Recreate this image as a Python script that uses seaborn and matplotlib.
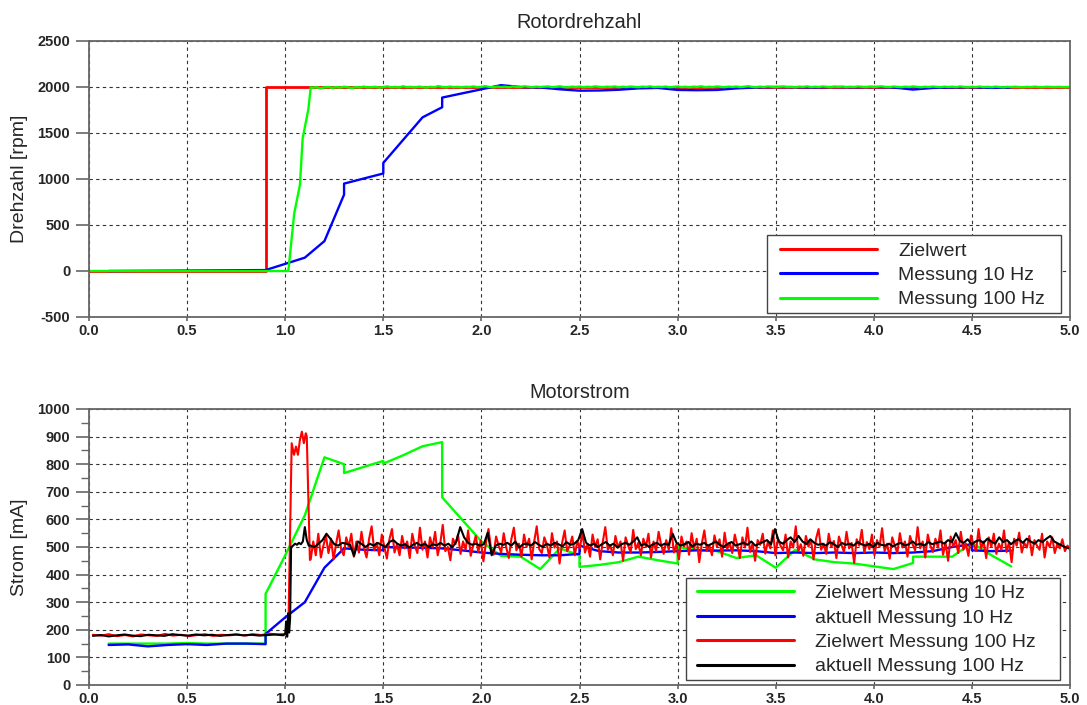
import numpy as np
import pandas as pd
import seaborn as sns
import matplotlib
matplotlib.use("Agg")
import matplotlib.pyplot as plt
from matplotlib.patches import Rectangle
from matplotlib.ticker import MultipleLocator, FormatStrFormatter

# ---------------- data: Rotordrehzahl ----------------
ziel_t = [0.0, 0.9, 0.9, 5.0]
ziel_v = [0, 0, 2000, 2000]

rpm10_t = [0.1, 0.9, 1.1, 1.2, 1.3, 1.3, 1.5, 1.5, 1.7, 1.8, 1.8, 2.0, 2.1, 2.2, 2.3, 2.4,
           2.5, 2.6, 2.7, 2.8, 2.9, 3.0, 3.1, 3.2, 3.3, 3.4, 3.5, 3.6, 3.7, 3.8, 3.9, 4.0,
           4.1, 4.2, 4.3, 4.4, 4.5, 4.6, 4.7]
rpm10_v = [0, 10, 145, 325, 830, 950, 1060, 1175, 1670, 1780, 1885, 1975, 2020, 2000, 1995, 1975,
           1960, 1962, 1970, 1985, 1990, 1968, 1965, 1968, 1985, 1995, 2000, 1998, 1995, 2000, 1997, 2000,
           1995, 1972, 1990, 1995, 1998, 1990, 1995]

rpm100_rise_t = [0.01, 1.016, 1.046, 1.075, 1.089, 1.118, 1.13]
rpm100_rise_v = [0, 0, 627, 935, 1442, 1757, 1996]
rpm100_steady_start = 1.14
rpm100_steady_v = [
    1992, 1998, 1985, 1996, 2001, 1990, 1999, 1994, 2003, 1997, 1988, 2000, 1995, 2004, 1996, 1999, 2002, 1993, 2000, 2006,
    1997, 2001, 1995, 2008, 1999, 2002, 1996, 2004, 2000, 1994, 2003, 1998, 2010, 2001, 1997, 2005, 1999, 2002, 1996, 2003,
    2000, 2006, 1998, 2002, 2009, 2001, 1997, 2004, 2000, 2003, 1998, 2005, 2001, 1999, 2007, 2002, 1998, 2004, 2000, 2003,
    2006, 1999, 2002, 2008, 2000, 1997, 2004, 2001, 2005, 1998, 2003, 2000, 2007, 2002, 1999, 2004, 2001, 2006, 1998, 2003,
    2000, 2005, 2002, 1998, 2004, 2001, 2007, 1999, 2003, 2000, 2005, 1997, 2002, 2006, 2000, 2003, 1998, 2004, 2001, 2008,
    1999, 2003, 2000, 2006, 2002, 1998, 2004, 2001, 2005, 1999, 2003, 2009, 2001, 1998, 2004, 2000, 2006, 2002, 1999, 2003,
    2005, 2000, 2002, 1997, 2004, 2001, 2007, 1999, 2003, 2000, 2006, 2002, 1998, 2004, 2001, 2005, 1999, 2003, 2000, 2006,
    2002, 1998, 2004, 2000, 2003, 2007, 2001, 1999, 2005, 2002, 1998, 2004, 2000, 2006, 2001, 1997, 2003, 2000, 2005, 2001,
    1998, 2004, 2000, 2003, 1999, 2006, 2001, 1997, 2003, 2000, 2005, 1999, 2002, 1998, 2004, 2000, 1996, 2002, 1999, 2003,
    2000, 1997, 2002, 1999, 2004, 2000, 1998, 2003, 2001, 1999, 2002, 2000, 1998, 2001]

# ---------------- data: Motorstrom ----------------
ziel10_t = [0.1, 0.2, 0.3, 0.4, 0.5, 0.6, 0.7, 0.8, 0.9, 0.9, 1.0, 1.1, 1.2, 1.3, 1.3, 1.4, 1.5, 1.5,
            1.6, 1.7, 1.8, 1.8, 1.9, 2.0, 2.1, 2.2, 2.3, 2.4, 2.5, 2.5, 2.6, 2.7, 2.8, 2.9, 3.0, 3.0,
            3.1, 3.2, 3.3, 3.4, 3.5, 3.6, 3.7, 3.8, 3.9, 4.0, 4.1, 4.2, 4.2, 4.3, 4.4, 4.5, 4.6, 4.7]
ziel10_v = [150, 150, 150, 150, 152, 150, 150, 150, 150, 330, 470, 615, 825, 800, 768, 790, 812, 802,
            832, 865, 880, 680, 600, 520, 468, 465, 420, 495, 470, 428, 435, 445, 465, 452, 440, 500,
            490, 485, 460, 470, 425, 490, 455, 445, 440, 430, 420, 442, 465, 465, 465, 515, 470, 430]

akt10_t = [0.1, 0.2, 0.3, 0.4, 0.5, 0.6, 0.7, 0.8, 0.9, 0.9, 1.0, 1.1, 1.2, 1.3, 1.4, 1.5, 1.5,
           1.6, 1.7, 1.8, 1.9, 2.0, 2.1, 2.2, 2.3, 2.4, 2.5, 2.5, 2.6, 2.7, 2.8, 2.9, 3.0, 3.1,
           3.2, 3.3, 3.4, 3.5, 3.6, 3.7, 3.8, 3.9, 4.0, 4.1, 4.2, 4.3, 4.4, 4.5, 4.5, 4.6, 4.7]
akt10_v = [145, 147, 140, 145, 148, 145, 150, 150, 148, 185, 245, 300, 425, 495, 490, 488, 500,
           498, 497, 495, 488, 480, 475, 472, 470, 470, 475, 505, 485, 480, 480, 482, 485, 488,
           487, 488, 485, 478, 480, 478, 480, 478, 480, 478, 480, 485, 500, 510, 488, 485, 487]

ziel100_pre_v = [182, 179, 184, 177, 181, 176, 183, 180, 178, 185, 179, 182, 177, 181, 184, 178,
                 182, 180, 183, 179, 184, 181, 186, 183, 185]
ziel100_peak_t = [1.01, 1.016, 1.033, 1.045, 1.055, 1.065, 1.075, 1.085, 1.095, 1.105, 1.11, 1.126]
ziel100_peak_v = [188, 193, 876, 834, 864, 834, 888, 918, 876, 912, 900, 453]
ziel100_steady_v = [
    455, 520, 470, 548, 462, 505, 540, 478, 530, 455, 512, 560, 490, 470, 535, 500, 548, 465, 520, 480,
    555, 495, 462, 530, 575, 488, 515, 470, 545, 500, 458, 528, 565, 480, 510, 470, 540, 495, 520, 460,
    548, 505, 478, 570, 490, 520, 462, 535, 498, 555, 470, 512, 580, 485, 500, 452, 530, 510, 545, 475,
    520, 490, 560, 468, 505, 540, 482, 525, 448, 515, 565, 495, 472, 538, 505, 480, 550, 498, 460, 528,
    570, 488, 512, 465, 545, 500, 530, 455, 520, 575, 492, 478, 535, 508, 462, 550, 498, 520, 440, 515,
    560, 485, 505, 538, 470, 522, 495, 555, 480, 510, 465, 545, 500, 528, 455, 518, 572, 490, 505, 470,
    540, 498, 520, 450, 535, 505, 480, 562, 492, 515, 470, 530, 500, 548, 462, 520, 485, 555, 508, 475,
    525, 490, 568, 480, 510, 455, 538, 502, 520, 472, 550, 495, 530, 445, 512, 560, 488, 505, 470, 542,
    500, 528, 465, 552, 492, 515, 478, 545, 505, 460, 535, 498, 570, 482, 512, 450, 525, 508, 548, 476,
    518, 495, 560, 470, 530, 505, 488, 545, 462, 520, 498, 575, 485, 510, 468, 540, 502, 525, 455, 530,
    565, 490, 512, 475, 548, 500, 522, 460, 538, 508, 482, 555, 495, 515, 442, 528, 505, 562, 480, 518,
    492, 545, 470, 525, 500, 568, 485, 512, 458, 535, 505, 478, 550, 498, 520, 465, 540, 510, 488, 572,
    495, 520, 462, 545, 505, 482, 530, 498, 560, 472, 515, 450, 538, 502, 525, 478, 555, 490, 512, 468,
    542, 508, 485, 565, 495, 520, 460, 535, 500, 548, 475, 512, 490, 560, 482, 518, 445, 530, 505, 552,
    480, 515, 498, 540, 470, 525, 505, 490, 548, 462, 520, 500, 535, 478, 512, 495, 528, 485, 505, 490]

akt100_pre_v = [178, 181, 176, 180, 183, 179, 177, 182, 180, 178, 184, 181, 179, 183, 180, 182,
                178, 181, 183, 180, 182, 179, 181, 183, 180]
akt100_jump_t = [1.0, 1.005, 1.01, 1.015, 1.02, 1.025, 1.03, 1.04, 1.05, 1.06, 1.07, 1.08, 1.09, 1.10, 1.11, 1.12]
akt100_jump_v = [185, 230, 175, 260, 190, 240, 500, 505, 512, 508, 515, 510, 520, 572, 525, 505]
akt100_steady_v = [
    505, 500, 512, 525, 548, 530, 510, 505, 515, 512,
    508, 468, 520, 510, 500, 512, 505, 515, 508, 500,
    518, 525, 512, 505, 510, 498, 508, 515, 505, 512,
    500, 510, 506, 515, 505, 512, 498, 520, 572, 535,
    515, 508, 512, 505, 510, 552, 470, 505, 512, 508,
    515, 505, 520, 498, 510, 512, 505, 518, 508, 500,
    512, 505, 515, 510, 502, 518, 508, 512, 525, 565,
    515, 505, 512, 500, 510, 518, 505, 512, 498, 510,
    515, 508, 520, 535, 505, 512, 500, 510, 515, 505,
    512, 508, 548, 515, 505, 510, 518, 502, 512, 508,
    515, 505, 512, 520, 508, 500, 512, 518, 505, 510,
    515, 508, 520, 505, 512, 518, 525, 510, 565, 520,
    512, 525, 535, 518, 540, 520, 510, 528, 515, 508,
    512, 505, 518, 510, 500, 515, 508, 512, 505, 518,
    510, 505, 512, 500, 515, 508, 505, 512, 502, 510,
    515, 505, 510, 520, 508, 512, 505, 518, 510, 515,
    520, 512, 525, 518, 550, 522, 515, 528, 510, 520,
    525, 515, 530, 520, 512, 535, 518, 525, 510, 522,
    528, 515, 530, 520, 512, 525, 518, 530, 540, 520,
    512, 505, 498, 495]

# ---------------- assemble series ----------------
rpm100_t = rpm100_rise_t + list(np.linspace(rpm100_steady_start, 5.0, len(rpm100_steady_v)))
rpm100_v = rpm100_rise_v + rpm100_steady_v

ziel100_t = list(np.linspace(0.02, 1.0, len(ziel100_pre_v))) + ziel100_peak_t + \
    list(np.linspace(1.13, 5.0, len(ziel100_steady_v)))
ziel100_v = ziel100_pre_v + ziel100_peak_v + ziel100_steady_v

akt100_t = list(np.linspace(0.02, 0.99, len(akt100_pre_v))) + akt100_jump_t + \
    list(np.linspace(1.13, 5.0, len(akt100_steady_v)))
akt100_v = akt100_pre_v + akt100_jump_v + akt100_steady_v

# ---------------- style ----------------
sns.set_style("white")
plt.rcParams['font.family'] = ['Liberation Sans', 'DejaVu Sans']
plt.rcParams['axes.unicode_minus'] = False

W, H = 1087, 705
fig = plt.figure(figsize=(W / 100, H / 100), dpi=100)
left = 89 / W
width = (1070 - 89) / W
ax1 = fig.add_axes([left, (H - 317) / H, width, (317 - 41) / H])
ax2 = fig.add_axes([left, (H - 685) / H, width, (685 - 409) / H])

spine_col = '#666666'


def draw(ax, t, v, color, label, lw=1.7):
    sns.lineplot(x=np.asarray(t, float), y=np.asarray(v, float), ax=ax, color=color,
                 lw=lw, estimator=None, sort=False, label=label)


draw(ax1, ziel_t, ziel_v, '#ff0000', 'Zielwert', lw=2.0)
draw(ax1, rpm10_t, rpm10_v, '#0000ff', 'Messung 10 Hz')
draw(ax1, rpm100_t, rpm100_v, '#00ff00', 'Messung 100 Hz')

draw(ax2, ziel10_t, ziel10_v, '#00ff00', 'Zielwert Messung 10 Hz')
draw(ax2, akt10_t, akt10_v, '#0000ff', 'aktuell Messung 10 Hz')
draw(ax2, ziel100_t, ziel100_v, '#ff0000', 'Zielwert Messung 100 Hz', lw=1.5)
draw(ax2, akt100_t, akt100_v, '#000000', 'aktuell Messung 100 Hz', lw=1.5)

for ax in (ax1, ax2):
    ax.set_xlim(0, 5)
    ax.xaxis.set_major_locator(MultipleLocator(0.5))
    ax.xaxis.set_major_formatter(FormatStrFormatter('%.1f'))
    ax.grid(True, which='major', linestyle=(0, (3, 3)), color='#333333', lw=0.8)
    ax.set_axisbelow(True)
    for s in ax.spines.values():
        s.set_visible(True)
        s.set_color(spine_col)
        s.set_linewidth(1.3)
    ax.tick_params(axis='y', which='major', direction='out', length=9.5, width=1.2,
                   color=spine_col, pad=4, labelsize=10.5, left=True)
    ax.tick_params(axis='x', which='major', direction='out', length=3, width=1.2,
                   color=spine_col, pad=2, labelsize=10.5, bottom=True)
    ax.set_xlabel('')

ax1.set_ylim(-500, 2500)
ax1.yaxis.set_major_locator(MultipleLocator(500))
ax2.set_ylim(0, 1000)
ax2.yaxis.set_major_locator(MultipleLocator(100))
ax2.yaxis.set_minor_locator(MultipleLocator(50))
ax2.tick_params(axis='y', which='minor', direction='out', length=5.5, width=1.0,
                color=spine_col, left=True)
for ax in (ax1, ax2):
    for lab in ax.get_xticklabels() + ax.get_yticklabels():
        lab.set_fontweight('bold')

ax1.set_title('Rotordrehzahl', fontsize=14.3, pad=9)
ax2.set_title('Motorstrom', fontsize=14.3, pad=8)
ax1.set_ylabel('Drehzahl [rpm]', fontsize=14)
ax2.set_ylabel('Strom [mA]', fontsize=14)
for ax in (ax1, ax2):
    ax.yaxis.set_label_coords((28 - 89) / 981, 0.5)

fs = 14
leg_kw = dict(loc='upper left', borderaxespad=0, fontsize=fs, frameon=False,
              handlelength=5.0, handletextpad=1.08, labelspacing=0.35, borderpad=0,
              bbox_transform=fig.transFigure)
l1 = ax1.legend(bbox_to_anchor=(780 / W, 1 - 242 / H), **leg_kw)
l2 = ax2.legend(bbox_to_anchor=(697 / W, 1 - 584.5 / H), **leg_kw)
for lg in (l1, l2):
    lg.set_zorder(6)
    for ln in lg.get_lines():
        ln.set_linewidth(2.2)

# legend frames
for ax, (x0, y0, x1, y1) in ((ax1, (767, 235, 1061, 313)), (ax2, (686, 578, 1060, 680))):
    ax.add_patch(Rectangle((x0 / W, 1 - y1 / H), (x1 - x0) / W, (y1 - y0) / H,
                           transform=fig.transFigure, facecolor='white', edgecolor='#444444',
                           lw=1.0, zorder=5, clip_on=False))

fig.savefig('out.png', dpi=100)
